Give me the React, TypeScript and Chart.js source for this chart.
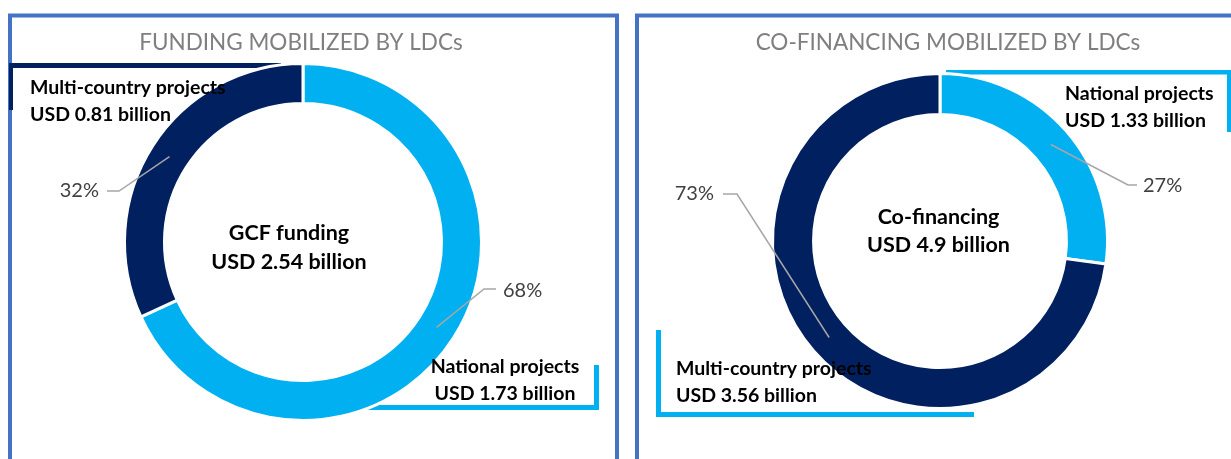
import React, { useEffect, useRef } from "react";
import { Chart, registerables } from "chart.js";

Chart.register(...registerables);

// ---------- data ----------
const segmentNames = ["National projects", "Multi-country projects"];
const fundingValues = [1.73, 0.81]; // USD billion
const cofinancingValues = [1.33, 3.56]; // USD billion
const panelTitles = ["FUNDING MOBILIZED BY LDCs", "CO-FINANCING MOBILIZED BY LDCs"];
const centerTitles = ["GCF funding", "Co-financing"];
const centerTotals = ["USD 2.54 billion", "USD 4.9 billion"];

// ---------- style ----------
const LIGHT = "#00B0F0";
const NAVY = "#002060";
const FRAME = "#4472C4";
const FONT = "Lato, 'Open Sans', sans-serif";

function txt(
  ctx: CanvasRenderingContext2D,
  s: string,
  x: number,
  y: number,
  size: number,
  weight: string,
  color: string,
  align: CanvasTextAlign
) {
  ctx.save();
  ctx.font = `${weight} ${size}px ${FONT}`;
  ctx.fillStyle = color;
  ctx.textAlign = align;
  ctx.textBaseline = "middle";
  ctx.fillText(s, x, y);
  ctx.restore();
}

const decorPlugin = {
  id: "panelDecor",
  beforeDatasetsDraw(chart: any) {
    const cfg = chart.options.plugins.panelDecor;
    if (!cfg) return;
    const ctx: CanvasRenderingContext2D = chart.ctx;
    ctx.save();
    // frame
    ctx.strokeStyle = FRAME;
    ctx.lineWidth = 4;
    ctx.beginPath();
    ctx.moveTo(cfg.frame.x1, 480);
    ctx.lineTo(cfg.frame.x1, cfg.frame.y);
    ctx.lineTo(cfg.frame.x2, cfg.frame.y);
    ctx.lineTo(cfg.frame.x2, 480);
    ctx.stroke();
    // brackets
    cfg.brackets.forEach((b: any) => {
      ctx.fillStyle = b.color;
      b.rects.forEach((r: number[]) => ctx.fillRect(r[0], r[1], r[2], r[3]));
    });
    ctx.restore();
    // title
    txt(ctx, cfg.title.text, cfg.title.x, cfg.title.y, 22.5, "400", "#7F7F7F", "center");
  },
  afterDatasetsDraw(chart: any) {
    const cfg = chart.options.plugins.panelDecor;
    if (!cfg) return;
    const ctx: CanvasRenderingContext2D = chart.ctx;
    const meta = chart.getDatasetMeta(0);
    const values: number[] = chart.data.datasets[0].data;
    const sum = values.reduce((a, b) => a + b, 0);
    // leader lines + percentages
    cfg.leaders.forEach((l: any) => {
      const p = meta.data[l.idx].getCenterPoint();
      ctx.save();
      ctx.strokeStyle = "#A6A6A6";
      ctx.lineWidth = 1.5;
      ctx.beginPath();
      ctx.moveTo(p.x, p.y);
      ctx.lineTo(l.elbow[0], l.elbow[1]);
      ctx.lineTo(l.end[0], l.end[1]);
      ctx.stroke();
      ctx.restore();
      const pct = Math.round((values[l.idx] / sum) * 100) + "%";
      txt(ctx, pct, l.tx, l.ty, 20, "400", "#404040", l.align);
    });
    // callouts
    cfg.callouts.forEach((c: any) => {
      txt(ctx, segmentNames[c.idx], c.x, c.y, 19.5, "700", "#000", c.align);
      txt(ctx, `USD ${values[c.idx].toFixed(2)} billion`, c.x, c.y + 27, 19.5, "700", "#000", c.align);
    });
    // center
    txt(ctx, cfg.center.title, cfg.center.x, cfg.center.y1, 21.5, "700", "#000", "center");
    txt(ctx, cfg.center.total, cfg.center.x, cfg.center.y2, 21.5, "700", "#000", "center");
  },
};

function makeConfig(values: number[], radius: number, cutout: string, padding: any, decor: any) {
  return {
    type: "doughnut" as const,
    data: {
      labels: segmentNames,
      datasets: [
        {
          data: values,
          backgroundColor: [LIGHT, NAVY],
          borderColor: "#FFFFFF",
          borderWidth: 3,
        },
      ],
    },
    options: {
      responsive: false,
      animation: false as const,
      events: [],
      radius,
      cutout,
      layout: { padding },
      plugins: {
        legend: { display: false },
        tooltip: { enabled: false },
        title: { display: false },
        panelDecor: decor,
      },
    },
    plugins: [decorPlugin],
  };
}

export default function App() {
  const leftRef = useRef<HTMLCanvasElement>(null);
  const rightRef = useRef<HTMLCanvasElement>(null);

  useEffect(() => {
    const left = new Chart(
      leftRef.current!,
      makeConfig(fundingValues, 178.5, "77.6%", { left: 0, right: 625, top: 25, bottom: 0 }, {
        frame: { x1: 10, x2: 617, y: 15.5 },
        title: { text: panelTitles[0], x: 301, y: 43 },
        center: { title: centerTitles[0], total: centerTotals[0], x: 289, y1: 233, y2: 262 },
        brackets: [
          { color: NAVY, rects: [[9, 63, 272, 5], [9, 63, 4, 47]] },
          { color: LIGHT, rects: [[364, 405, 235, 5], [594, 365, 5, 45]] },
        ],
        callouts: [
          { idx: 1, x: 30, y: 88, align: "left" },
          { idx: 0, x: 505, y: 367, align: "center" },
        ],
        leaders: [
          { idx: 0, elbow: [484, 289], end: [496, 289], tx: 503, ty: 291, align: "left" },
          { idx: 1, elbow: [119, 191], end: [107, 191], tx: 99, ty: 191, align: "right" },
        ],
      }) as any
    );
    const right = new Chart(
      rightRef.current!,
      makeConfig(cofinancingValues, 167.5, "75.5%", { left: 649, right: 0, top: 23, bottom: 0 }, {
        frame: { x1: 637, x2: 1260, y: 15.5 },
        title: { text: panelTitles[1], x: 948, y: 43 },
        center: { title: centerTitles[1], total: centerTotals[1], x: 938.5, y1: 217, y2: 245 },
        brackets: [
          { color: LIGHT, rects: [[946, 70, 290, 4.5], [1227, 70, 5, 62]] },
          { color: LIGHT, rects: [[656, 330, 5, 87], [656, 412, 318, 5]] },
        ],
        callouts: [
          { idx: 0, x: 1065, y: 94, align: "left" },
          { idx: 1, x: 676, y: 369, align: "left" },
        ],
        leaders: [
          { idx: 0, elbow: [1128, 185], end: [1137, 185], tx: 1143, ty: 186, align: "left" },
          { idx: 1, elbow: [737, 194], end: [723, 194], tx: 714, ty: 194, align: "right" },
        ],
      }) as any
    );
    return () => {
      left.destroy();
      right.destroy();
    };
  }, []);

  const canvasStyle: React.CSSProperties = {
    position: "absolute",
    left: 0,
    top: 0,
    width: 1231,
    height: 459,
  };

  return (
    <div
      style={{
        position: "absolute",
        left: 0,
        top: 0,
        width: 1231,
        height: 459,
        overflow: "hidden",
        background: "#FFFFFF",
      }}
    >
      <canvas ref={leftRef} width={1231} height={459} style={canvasStyle} />
      <canvas ref={rightRef} width={1231} height={459} style={canvasStyle} />
    </div>
  );
}
